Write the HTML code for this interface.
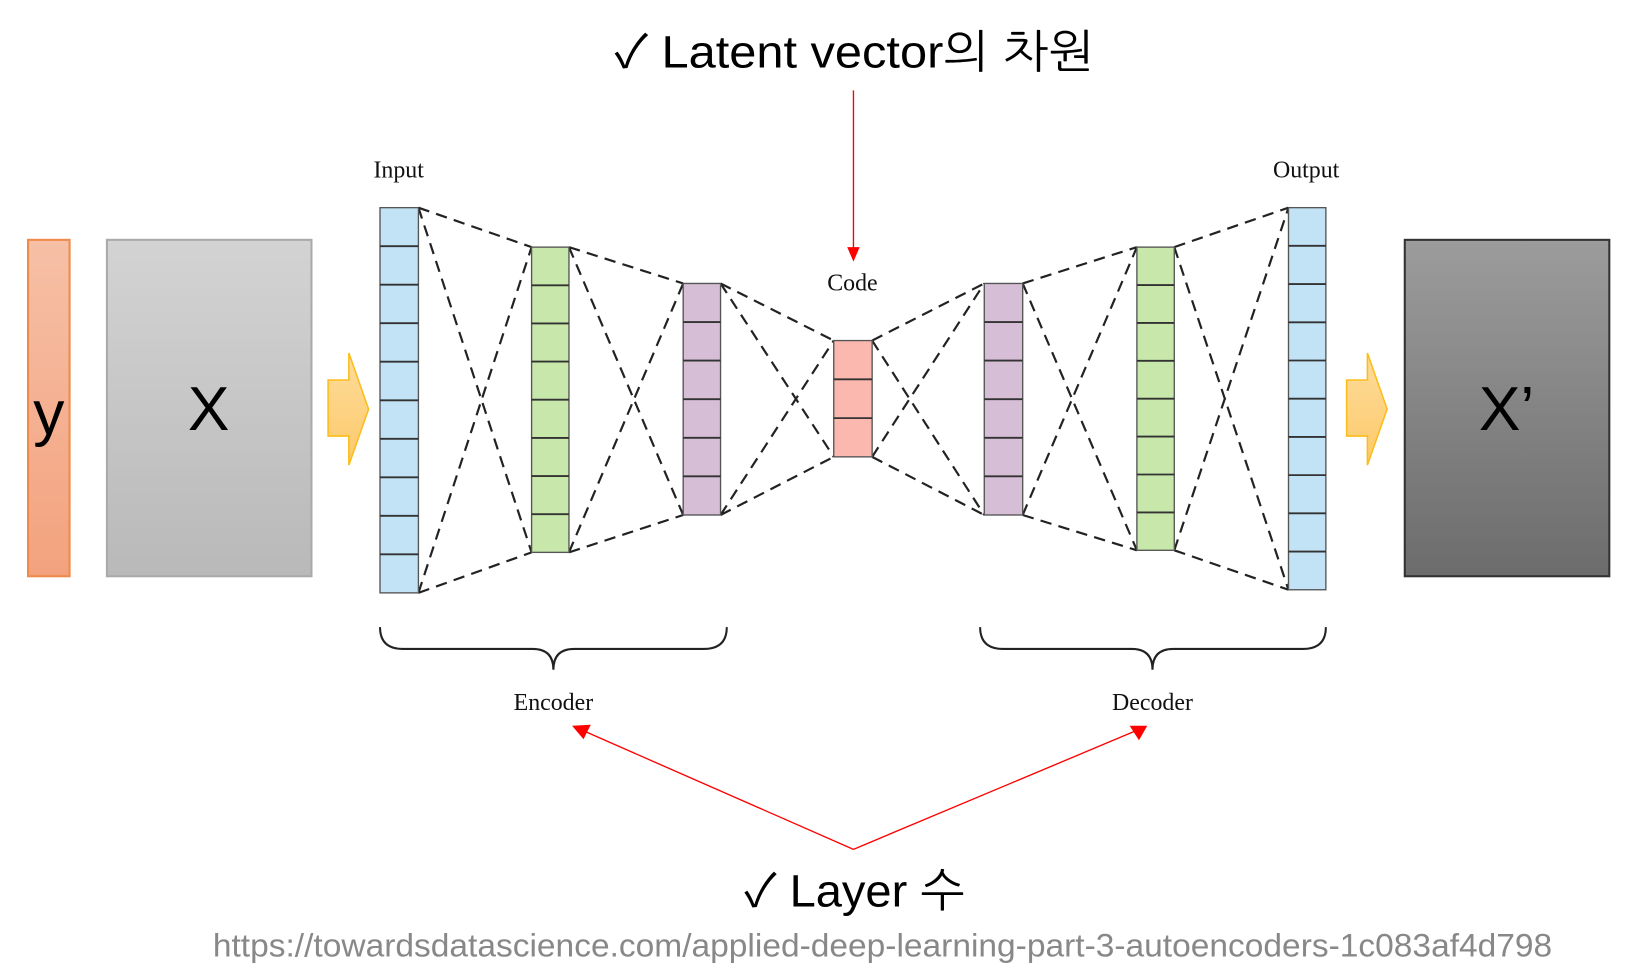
<!DOCTYPE html>
<html><head><meta charset="utf-8"><style>html,body{margin:0;padding:0;background:#fff}svg{display:block}</style></head>
<body>
<svg width="1628" height="976" viewBox="0 0 1568 940" preserveAspectRatio="none" xmlns="http://www.w3.org/2000/svg">
<defs>
<linearGradient id="gy" x1="0" y1="0" x2="0" y2="1"><stop offset="0" stop-color="#f6c0a6"/><stop offset="1" stop-color="#f3a27e"/></linearGradient>
<linearGradient id="gx" x1="0" y1="0" x2="0" y2="1"><stop offset="0" stop-color="#d3d3d3"/><stop offset="1" stop-color="#b9b9b9"/></linearGradient>
<linearGradient id="gx2" x1="0" y1="0" x2="0" y2="1"><stop offset="0" stop-color="#9c9c9c"/><stop offset="1" stop-color="#6c6c6c"/></linearGradient>
<linearGradient id="ga" x1="0" y1="0" x2="0" y2="1"><stop offset="0" stop-color="#fddc9c"/><stop offset="1" stop-color="#fdc96a"/></linearGradient>
</defs>
<g font-family="'Liberation Sans','NanumGothic','Noto Sans CJK KR',sans-serif" fill="#000">
<text x="823" y="65" font-size="44" text-anchor="middle" textLength="462" lengthAdjust="spacingAndGlyphs">✓ Latent vector의 차원</text>
<text x="823" y="873" font-size="44" text-anchor="middle" textLength="212" lengthAdjust="spacingAndGlyphs">✓ Layer 수</text>
<text x="850" y="921" font-size="31" fill="#888" text-anchor="middle" textLength="1290" lengthAdjust="spacingAndGlyphs">https://towardsdatascience.com/applied-deep-learning-part-3-autoencoders-1c083af4d798</text>
</g>
<rect x="27" y="231" width="40" height="324" fill="url(#gy)" stroke="#f08a4a" stroke-width="2"/>
<rect x="103" y="231" width="197" height="324" fill="url(#gx)" stroke="#aaa" stroke-width="2"/>
<rect x="1353" y="231" width="197" height="324" fill="url(#gx2)" stroke="#333" stroke-width="2"/>
<g font-family="'Liberation Sans',sans-serif" font-size="60" text-anchor="middle">
<text x="47" y="418">y</text><text x="201" y="414">X</text><text x="1451" y="414">X’</text>
</g>
<path d="M316,366 L336,366 L336,340 L355,394 L336,448 L336,420 L316,420 Z" fill="url(#ga)" stroke="#fbbd1a" stroke-width="1.5"/>
<path d="M1297,366 L1317,366 L1317,340 L1336,394 L1317,448 L1317,420 L1297,420 Z" fill="url(#ga)" stroke="#fbbd1a" stroke-width="1.5"/>
<g stroke="#222" stroke-width="2.1" stroke-dasharray="11,7" fill="none">
<path d="M403,200L512,238M403,571L512,532M403,200L512,532M403,571L512,238"/>
<path d="M548,238L658,273M548,532L658,496M548,238L658,496M548,532L658,273"/>
<path d="M694,273L803,328M694,496L803,440M694,273L803,440M694,496L803,328"/>
<path d="M840,328L948,273M840,440L948,496M840,328L948,496M840,440L948,273"/>
<path d="M985,273L1095,238M985,496L1095,530M985,273L1095,530M985,496L1095,238"/>
<path d="M1131,238L1241,200M1131,530L1241,568M1131,238L1241,568M1131,530L1241,200"/>
</g>
<g stroke="#555" stroke-width="1.3">
<rect x="366" y="200" width="37" height="371" fill="#c2e3f5"/>
<rect x="512" y="238" width="36" height="294" fill="#c7e7ab"/>
<rect x="658" y="273" width="36" height="223" fill="#d5bed6"/>
<rect x="803" y="328" width="37" height="112" fill="#fbb8ae"/>
<rect x="948" y="273" width="37" height="223" fill="#d5bed6"/>
<rect x="1095" y="238" width="36" height="292" fill="#c7e7ab"/>
<rect x="1241" y="200" width="36" height="368" fill="#c2e3f5"/>
</g>
<g stroke="#333" stroke-width="1.8">
<path d="M366,237.1h37M366,274.2h37M366,311.3h37M366,348.4h37M366,385.5h37M366,422.6h37M366,459.7h37M366,496.8h37M366,533.9h37"/>
<path d="M512,274.75h36M512,311.5h36M512,348.25h36M512,385h36M512,421.75h36M512,458.5h36M512,495.25h36"/>
<path d="M658,310.2h36M658,347.3h36M658,384.5h36M658,421.7h36M658,458.8h36"/>
<path d="M803,365.3h37M803,402.7h37"/>
<path d="M948,310.2h37M948,347.3h37M948,384.5h37M948,421.7h37M948,458.8h37"/>
<path d="M1095,274.5h36M1095,311h36M1095,347.5h36M1095,384h36M1095,420.5h36M1095,457h36M1095,493.5h36"/>
<path d="M1241,236.8h36M1241,273.6h36M1241,310.4h36M1241,347.2h36M1241,384h36M1241,420.8h36M1241,457.6h36M1241,494.4h36M1241,531.2h36"/>
</g>
<g fill="none" stroke="#222" stroke-width="2">
<path d="M366,604 Q366,625 388,625 L513,625 Q533,625 533,645 Q533,625 553,625 L678,625 Q700,625 700,604"/>
<path d="M944,604 Q944,625 966,625 L1090,625 Q1110,625 1110,645 Q1110,625 1130,625 L1255,625 Q1277,625 1277,604"/>
</g>
<g font-family="'Liberation Serif',serif" font-size="23" text-anchor="middle" fill="#111">
<text x="384" y="171">Input</text><text x="1258" y="171">Output</text><text x="821" y="280">Code</text>
<text x="533" y="684">Encoder</text><text x="1110" y="684">Decoder</text>
</g>
<g stroke="#f00" stroke-width="1.3" fill="none">
<path d="M822,87 L822,240"/><path d="M822,818 L560,703"/><path d="M822,818 L1096,703"/>
</g>
<g fill="#f00">
<path d="M816,238 L828,238 L822,252 Z"/>
<path d="M551,699 L569,698 L562,712 Z"/>
<path d="M1105,699 L1097,713 L1088,699 Z"/>
</g>
</svg>
</body></html>
